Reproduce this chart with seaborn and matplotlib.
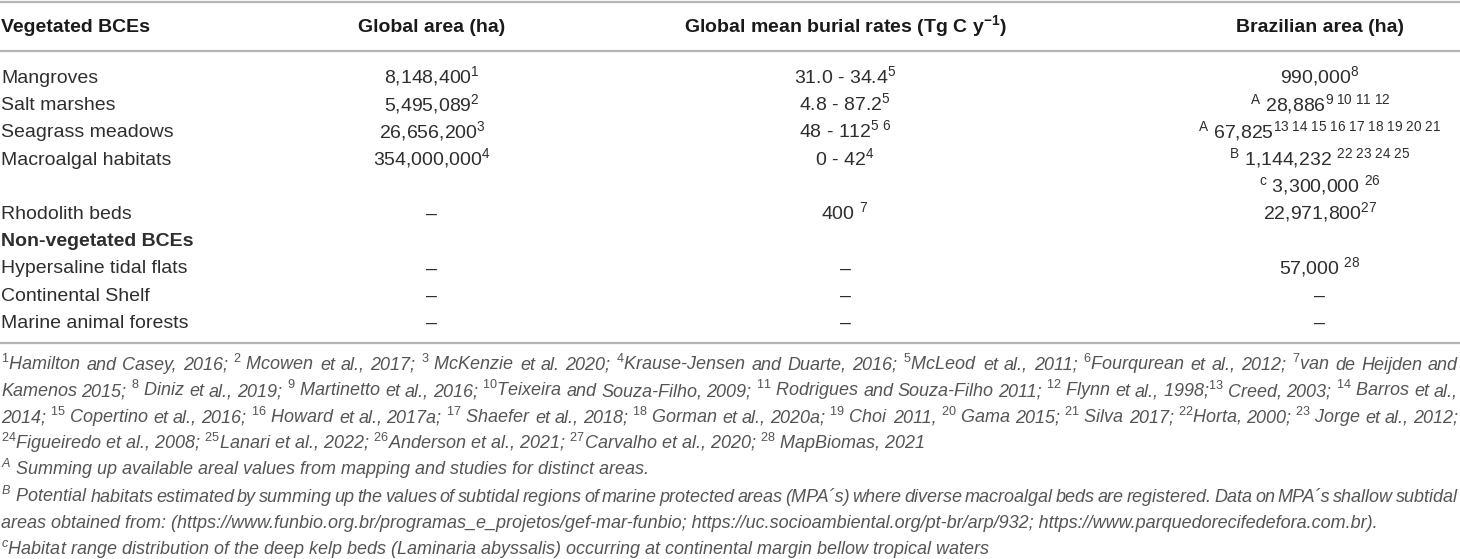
import re
import matplotlib
matplotlib.use("Agg")
import matplotlib.pyplot as plt
import seaborn as sns

sns.set_theme(style="white")
plt.rcParams['font.family'] = ['Liberation Sans', 'DejaVu Sans']
plt.rcParams['mathtext.fontset'] = 'custom'
plt.rcParams['mathtext.rm'] = 'Liberation Sans'
plt.rcParams['mathtext.it'] = 'Liberation Sans:italic'
plt.rcParams['mathtext.bf'] = 'Liberation Sans:bold'

# table content
headers = ["Vegetated BCEs", "Global area (ha)",
           r"Global mean burial rates (Tg C y$^{\mathbf{-1}}$)", "Brazilian area (ha)"]
ecosystems = ["Mangroves", "Salt marshes", "Seagrass meadows", "Macroalgal habitats", "",
              "Rhodolith beds", "Non-vegetated BCEs", "Hypersaline tidal flats",
              "Continental Shelf", "Marine animal forests"]
bold_rows = ["Non-vegetated BCEs"]
global_area = ["8,148,400", "5,495,089", "26,656,200", "354,000,000", "", "–", "", "–", "–", "–"]
global_area_refs = ["1", "2", "3", "4", "", "", "", "", "", ""]
burial_rates = ["31.0 - 34.4", "4.8 - 87.2", "48 - 112", "0 - 42", "", "400", "", "–", "–", "–"]
burial_refs = ["5", "5", "5 6", "4", "", " 7", "", "", "", ""]
brazil_prefix = ["", "A", "A", "B", "c", "", "", "", "", ""]
brazil_area = ["990,000", "28,886", "67,825", "1,144,232", "3,300,000", "22,971,800", "",
               "57,000", "–", "–"]
brazil_refs = ["8", "9 10 11 12", "13 14 15 16 17 18 19 20 21", " 22 23 24 25", " 26", "27", "",
               " 28", "", ""]

footnotes = [
    "^{1}Hamilton and Casey, 2016; ^{2} Mcowen et al., 2017; ^{3} McKenzie et al. 2020; "
    "^{4}Krause-Jensen and Duarte, 2016; ^{5}McLeod et al., 2011; ^{6}Fourqurean et al., 2012; "
    "^{7}van de Heijden and",
    "Kamenos 2015; ^{8} Diniz et al., 2019; ^{9} Martinetto et al., 2016; ^{10}Teixeira and "
    "Souza-Filho, 2009; ^{11} Rodrigues and Souza-Filho 2011; ^{12} Flynn et al., 1998;^{13} "
    "Creed, 2003; ^{14} Barros et al.,",
    "2014; ^{15} Copertino et al., 2016; ^{16} Howard et al., 2017a; ^{17} Shaefer et al., 2018; "
    "^{18} Gorman et al., 2020a; ^{19} Choi 2011, ^{20} Gama 2015; ^{21} Silva 2017; "
    "^{22}Horta, 2000; ^{23} Jorge et al., 2012;",
    "^{24}Figueiredo et al., 2008; ^{25}Lanari et al., 2022; ^{26}Anderson et al., 2021; "
    "^{27}Carvalho et al., 2020; ^{28} MapBiomas, 2021",
    "^{A} Summing up available areal values from mapping and studies for distinct areas.",
    "^{B} Potential habitats estimated by summing up the values of subtidal regions of marine "
    "protected areas (MPA´s) where diverse macroalgal beds are registered. Data on MPA´s "
    "shallow subtidal",
    "areas obtained from: (https://www.funbio.org.br/programas_e_projetos/gef-mar-funbio; "
    "https://uc.socioambiental.org/pt-br/arp/932; https://www.parquedorecifedefora.com.br).",
    "^{c}Habitat range distribution of the deep kelp beds (Laminaria abyssalis) occurring at "
    "continental margin bellow tropical waters",
]
justified = [True, True, True, False, False, True, False, False]


def sup(ref, italic=False):
    if not ref:
        return ""
    lead = " " if ref.startswith(" ") else ""
    body = ref.strip().replace(" ", r"\ ")
    body = (r"\mathit{" if italic else r"\mathrm{") + body + "}"
    return lead + "$^{" + body + "}$"


def fn_markup(s):
    return re.sub(r"\^\{([^}]*)\}", lambda m: r"$^{\mathit{" + m.group(1) + "}}$", s)


def fn_words(s):
    # split into words, keeping a lone superscript glued to the word after it
    raw = s.split(" ")
    out = []
    carry = ""
    for w in raw:
        if re.fullmatch(r"\^\{[^}]*\}", w):
            carry = w + " "
            continue
        out.append(carry + w)
        carry = ""
    return [fn_markup(w) for w in out]


W, H = 1460, 559
fig = plt.figure(figsize=(W / 100, H / 100), dpi=100)
ax = fig.add_axes([0, 0, 1, 1])
ax.set_xlim(0, W)
ax.set_ylim(H, 0)
ax.axis("off")

col_x = [1, 432, 845, 1320]
rule_c = "#b5b5b5"
for y in [1.5, 51, 343]:
    ax.axhline(y, color=rule_c, lw=1.6)

# header
hdr_base = 32
for i, h in enumerate(headers):
    ax.text(col_x[i], hdr_base, h, ha="left" if i == 0 else "center", va="baseline",
            fontsize=14, fontweight="bold", color="#1a1a1a")

# body rows
body_c = "#2e2e2e"
row0, step = 83, 27.2
for i, name in enumerate(ecosystems):
    yb = row0 + step * i
    if name:
        ax.text(col_x[0], yb, name, ha="left", va="baseline", fontsize=14, color=body_c,
                fontweight="bold" if name in bold_rows else "normal")
    if global_area[i]:
        ax.text(col_x[1], yb, global_area[i] + sup(global_area_refs[i]), ha="center",
                va="baseline", fontsize=14, color=body_c)
    if burial_rates[i]:
        ax.text(col_x[2], yb, burial_rates[i] + sup(burial_refs[i]), ha="center",
                va="baseline", fontsize=14, color=body_c)
    if brazil_area[i]:
        pre = (r"$^{\mathrm{" + brazil_prefix[i] + "}}$ ") if brazil_prefix[i] else ""
        ax.text(col_x[3], yb, pre + brazil_area[i] + sup(brazil_refs[i]), ha="center",
                va="baseline", fontsize=14, color=body_c)

# footnotes
fn_c = "#555555"
fn_size = 13
fn0, fn_step = 370, 26.3
renderer = fig.canvas.get_renderer()
x_left, x_right = 1, 1458
for i, line in enumerate(footnotes):
    yb = fn0 + fn_step * i
    if not justified[i]:
        ax.text(x_left, yb, fn_markup(line), ha="left", va="baseline", fontsize=fn_size,
                style="italic", color=fn_c)
        continue
    words = fn_words(line)
    arts = [ax.text(0, yb, w, ha="left", va="baseline", fontsize=fn_size,
                    style="italic", color=fn_c) for w in words]
    widths = [a.get_window_extent(renderer).width for a in arts]
    gap = (x_right - x_left - sum(widths)) / (len(words) - 1)
    x = x_left
    for a, w in zip(arts, widths):
        a.set_x(x)
        x += w + gap

fig.savefig("out.png", dpi=100)
